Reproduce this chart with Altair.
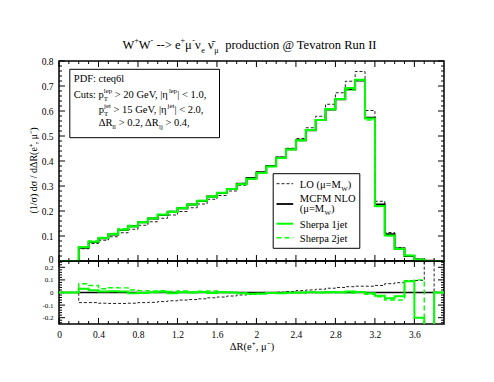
import altair as alt
import pandas as pd

# ---------------- data ----------------
bin_lo = [0.0, 0.1, 0.2, 0.3, 0.4, 0.5, 0.6, 0.7, 0.8, 0.9, 1.0, 1.1, 1.2, 1.3,
          1.4, 1.5, 1.6, 1.7, 1.8, 1.9, 2.0, 2.1, 2.2, 2.3, 2.4, 2.5, 2.6, 2.7,
          2.8, 2.9, 3.0, 3.1, 3.2, 3.3, 3.4, 3.5, 3.6, 3.7, 3.8]
X_MAX = 3.9

nlo = [0, 0, 0.053, 0.076, 0.091, 0.106, 0.124, 0.139, 0.155, 0.170, 0.184, 0.197,
       0.211, 0.226, 0.240, 0.258, 0.272, 0.288, 0.309, 0.332, 0.355, 0.380, 0.414,
       0.447, 0.483, 0.523, 0.564, 0.606, 0.647, 0.687, 0.722, 0.573, 0.226, 0.107,
       0.050, 0.020, 0.006, 0.001, 0]
lo = [0, 0, 0.049, 0.070, 0.083, 0.097, 0.113, 0.127, 0.143, 0.157, 0.171, 0.184,
      0.198, 0.213, 0.228, 0.247, 0.262, 0.280, 0.303, 0.327, 0.351, 0.378, 0.415,
      0.451, 0.490, 0.533, 0.579, 0.627, 0.673, 0.719, 0.758, 0.602, 0.239, 0.114,
      0.054, 0.022, 0.007, 0.002, 0]
sherpa1 = [0, 0, 0.055, 0.077, 0.092, 0.107, 0.125, 0.138, 0.155, 0.170, 0.185, 0.196,
           0.211, 0.226, 0.241, 0.257, 0.273, 0.288, 0.307, 0.329, 0.352, 0.378, 0.412,
           0.446, 0.483, 0.524, 0.564, 0.608, 0.648, 0.692, 0.725, 0.570, 0.220, 0.102,
           0.049, 0.022, 0.005, 0.0, 0]
sherpa2 = [0, 0, 0.057, 0.080, 0.094, 0.110, 0.129, 0.142, 0.157, 0.172, 0.187, 0.199,
           0.214, 0.227, 0.242, 0.261, 0.273, 0.289, 0.308, 0.328, 0.351, 0.378, 0.412,
           0.447, 0.481, 0.524, 0.564, 0.605, 0.647, 0.684, 0.723, 0.564, 0.218, 0.101,
           0.047, 0.022, 0.007, 0.0, 0]

r_nlo = [0] * 39
r_lo = [0, 0, -0.08, -0.08, -0.085, -0.087, -0.087, -0.085, -0.08, -0.078, -0.072,
        -0.066, -0.06, -0.056, -0.05, -0.042, -0.036, -0.028, -0.02, -0.015, -0.01,
        -0.004, 0.002, 0.008, 0.015, 0.02, 0.026, 0.034, 0.04, 0.046, 0.05, 0.05,
        0.056, 0.07, 0.078, 0.095, 0.095, 1.0, 0]
r_s1 = [0, 0, 0.03, 0.018, 0.008, 0.01, 0.008, -0.005, -0.003, 0.002, 0.005, -0.005,
        0.002, 0.0, 0.003, -0.004, 0.002, 0.0, -0.006, -0.01, -0.008, -0.004, -0.006,
        -0.002, 0.0, 0.002, 0.0, 0.004, 0.002, 0.008, 0.004, -0.005, -0.025, -0.045,
        -0.03, 0.09, -0.2, -1.0, 0]
r_s2 = [0, 0, 0.07, 0.055, 0.03, 0.038, 0.037, 0.02, 0.015, 0.012, 0.015, 0.008,
        0.012, 0.006, 0.01, 0.012, 0.004, 0.002, -0.004, -0.012, -0.01, -0.006, -0.004,
        0.0, -0.004, 0.002, 0.0, -0.002, 0.0, -0.004, 0.002, -0.015, -0.035, -0.06,
        -0.06, 0.09, 0.1, -1.0, 0]

x_major = [0, 0.4, 0.8, 1.2, 1.6, 2.0, 2.4, 2.8, 3.2, 3.6]
y_major = [0, 0.1, 0.2, 0.3, 0.4, 0.5, 0.6, 0.7, 0.8]
r_major = [-0.2, -0.1, 0, 0.1, 0.2]
x_minor = [round(0.1 * i, 2) for i in range(1, 39) if i % 4]
y_minor = [round(0.02 * i, 3) for i in range(1, 40) if i % 5]
r_minor = [round(-0.24 + 0.02 * i, 3) for i in range(25) if (i + 3) % 5]

# ---------------- styling ----------------
FONT = "Liberation Serif"
GREEN = "#00ff00"
DARK = "#222222"
W_PLOT, H_TOP, H_BOT = 385, 200, 63
MAJ, MIN = 6, 3

xs = alt.Scale(domain=[0, X_MAX], nice=False, zero=False)
ys_top = alt.Scale(domain=[0, 0.8], nice=False)
ys_bot = alt.Scale(domain=[-0.25, 0.25], nice=False)

ax_y_top = alt.Axis(values=y_major, format="~g", ticks=False, tickSize=0, domain=False,
                    grid=False, labelFont=FONT, labelFontSize=9.5, labelPadding=6,
                    labelFlush=False, labelOverlap=False,
                    labelOffset=alt.condition("datum.value == 0", alt.value(-2), alt.value(0)),
                    title="(1/σ)  dσ / dΔR(e⁺, μ⁻)", titleFont=FONT, titleFontSize=10,
                    titleFontWeight="normal", titleX=-21, titleY=109)
ax_y_bot = alt.Axis(values=r_major, format="~g", ticks=False, tickSize=0, domain=False,
                    grid=False, labelFont=FONT, labelFontSize=7, labelPadding=6,
                    labelFlush=False, labelOverlap=False,
                    labelExpr="replace(datum.label, '\u2212', '-')", title=None)
ax_x_bot = alt.Axis(values=x_major, format="~g", ticks=False, tickSize=0, domain=False,
                    grid=False, labelFont=FONT, labelFontSize=9.5, labelPadding=5,
                    labelFlush=False, labelOverlap=False,
                    title="ΔR(e⁺, μ⁻)", titleFont=FONT, titleFontSize=10.5,
                    titleFontWeight="normal", titlePadding=3)

one = pd.DataFrame({"a": [0]})

# Times / Liberation Serif advance widths (em)
TW = {' ': .25, '!': .333, '(': .333, ')': .333, '+': .564, ',': .25,
      '-': .333, '.': .25, '/': .278, ':': .278, '<': .564, '=': .564, '>': .564,
      '@': .921, '|': .2, 'A': .722, 'C': .667, 'D': .722, 'F': .556, 'G': .722,
      'I': .333, 'L': .611, 'M': .889, 'N': .722, 'O': .722, 'P': .556, 'R': .667,
      'S': .556, 'T': .611, 'V': .722, 'W': .944, 'a': .444, 'b': .5, 'c': .444,
      'd': .5, 'e': .444, 'f': .333, 'g': .5, 'h': .5, 'i': .278, 'j': .278, 'k': .5,
      'l': .278, 'm': .778, 'n': .5, 'o': .5, 'p': .5, 'q': .5, 'r': .333, 's': .389,
      't': .278, 'u': .5, 'v': .5, 'w': .722, 'x': .5, 'y': .5, 'z': .444, 'μ': .576,
      'ν': .5, 'η': .5, 'Δ': .612, 'σ': .55, '\u0304': 0}


def _pieces(segs, size):
    out = []
    for text, kind in segs:
        if kind == "n":
            s, dy, adv = size, 0, True
        elif kind == "sup":
            s, dy, adv = size * 0.65, -size * 0.45, True
        elif kind == "sub":
            s, dy, adv = size * 0.65, size * 0.3, True
        else:  # subscript without advance (stacked under a superscript)
            s, dy, adv = size * 0.65, size * 0.3, False
        w = sum(TW.get(c, 0.5) for c in text) * s
        lead = (len(text) - len(text.lstrip(" "))) * TW[" "] * s
        out.append((text.strip(" "), s, dy, lead, w if adv else 0))
    return out


def rich(segs, x0, y0, size, center=False):
    """Text annotation made of normal / superscript / subscript pieces."""
    pcs = _pieces(segs, size)
    x = x0 - sum(p[4] for p in pcs) / 2 if center else x0
    out = []
    for text, s, dy, lead, adv in pcs:
        out.append(alt.Chart(one).mark_text(align="left", baseline="alphabetic",
                                            font=FONT, fontSize=s, color="black")
                   .encode(x=alt.value(x + lead), y=alt.value(y0 + dy),
                           text=alt.value(text)))
        x += adv
    return out


def steps(xv, vals):
    return pd.DataFrame({"x": xv + [X_MAX], "y": vals + [vals[-1]]})


def series(vals, ysc, yax, xax, color, width, dash=None):
    kw = dict(interpolate="step-after", color=color, strokeWidth=width, clip=True)
    if dash:
        kw["strokeDash"] = dash
    return alt.Chart(steps(bin_lo, vals)).mark_line(**kw).encode(
        x=alt.X("x:Q", scale=xs, axis=xax),
        y=alt.Y("y:Q", scale=ysc, axis=yax))


def ticks(xax, ysc, yax, height, yvals_major, yvals_minor):
    layers = []
    for vals, L in ((x_major, MAJ), (x_minor, MIN)):
        df = pd.DataFrame({"v": vals})
        layers.append(alt.Chart(df).mark_rule(color="black", strokeWidth=1).encode(
            x=alt.X("v:Q", scale=xs, axis=xax), y=alt.value(0), y2=alt.value(L)))
        layers.append(alt.Chart(df).mark_rule(color="black", strokeWidth=1).encode(
            x=alt.X("v:Q", scale=xs, axis=xax), y=alt.value(height), y2=alt.value(height - L)))
    for vals, L in ((yvals_major, MAJ), (yvals_minor, MIN)):
        df = pd.DataFrame({"v": vals})
        layers.append(alt.Chart(df).mark_rule(color="black", strokeWidth=1).encode(
            y=alt.Y("v:Q", scale=ysc, axis=yax), x=alt.value(0), x2=alt.value(L)))
        layers.append(alt.Chart(df).mark_rule(color="black", strokeWidth=1).encode(
            y=alt.Y("v:Q", scale=ysc, axis=yax), x=alt.value(W_PLOT), x2=alt.value(W_PLOT - L)))
    return layers


# ---------------- upper panel ----------------
frame = alt.Chart(one).mark_rect(opacity=0).encode(
    x=alt.value(-49.5), x2=alt.value(0), y=alt.value(-52), y2=alt.value(0))

cut_box = alt.Chart(one).mark_rect(fill="white", stroke="black", strokeWidth=1).encode(
    x=alt.value(10.8), x2=alt.value(160.5), y=alt.value(8.3), y2=alt.value(76.7))
leg_box = alt.Chart(one).mark_rect(fill="white", stroke="black", strokeWidth=1).encode(
    x=alt.value(214.2), x2=alt.value(300.8), y=alt.value(112.7), y2=alt.value(187.3))


def sample(y, color, width, dash=None):
    kw = dict(color=color, strokeWidth=width)
    if dash:
        kw["strokeDash"] = dash
    return alt.Chart(one).mark_rule(**kw).encode(
        x=alt.value(217.5), x2=alt.value(234.2), y=alt.value(y))


texts = []
texts += rich([("W", "n"), ("+", "sup"), ("W", "n"), ("-", "sup"), (" --> e", "n"),
               ("+", "sup"), ("μ", "n"), ("-", "sup"), ("ν", "n"), ("e", "sub"),
               (" ν\u0304", "n"), ("μ", "sub"), ("  production @ Tevatron Run II", "n")],
              191, -12, 12.5, center=True)
texts += rich([("PDF: cteq6l", "n")], 14.8, 20.5, 10.5)
texts += rich([("Cuts: p", "n"), ("T", "subn"), ("lep", "sup"), (" > 20 GeV, |η", "n"),
               ("lep", "sup"), ("| < 1.0,", "n")], 14.8, 37, 10.5)
texts += rich([("p", "n"), ("T", "subn"), ("jet", "sup"), (" > 15 GeV, |η", "n"),
               ("jet", "sup"), ("| < 2.0,", "n")], 39.8, 52, 10.5)
texts += rich([("ΔR", "n"), ("ll", "sub"), (" > 0.2, ΔR", "n"), ("lj", "sub"),
               (" > 0.4,", "n")], 39.8, 65, 10.5)
texts += rich([("LO (μ=M", "n"), ("W", "sub"), (")", "n")], 240.8, 126.5, 10.5)
texts += rich([("MCFM NLO", "n")], 240.8, 140.5, 10.5)
texts += rich([("(μ=M", "n"), ("W", "sub"), (")", "n")], 240.8, 151, 10.5)
texts += rich([("Sherpa 1jet", "n")], 240.8, 166.5, 10.5)
texts += rich([("Sherpa 2jet", "n")], 240.8, 180.5, 10.5)

samples = [sample(122.7, DARK, 1, [3, 2]), sample(143, "black", 1.8),
           sample(162.7, GREEN, 2), sample(176.7, GREEN, 1.4, [5, 3])]

top_layers = ([frame, cut_box, leg_box]
              + ticks(None, ys_top, ax_y_top, H_TOP, y_major, y_minor)
              + [series(lo, ys_top, ax_y_top, None, DARK, 1, [3, 2]),
                 series(nlo, ys_top, ax_y_top, None, "black", 1.8),
                 series(sherpa1, ys_top, ax_y_top, None, GREEN, 2),
                 series(sherpa2, ys_top, ax_y_top, None, GREEN, 1.4, [5, 3])]
              + texts + samples)
top = alt.layer(*top_layers).properties(width=W_PLOT, height=H_TOP)

# ---------------- ratio panel ----------------
bot_layers = (ticks(ax_x_bot, ys_bot, ax_y_bot, H_BOT, r_major, r_minor)
              + [series(r_lo, ys_bot, ax_y_bot, ax_x_bot, DARK, 1, [3, 2]),
                 series(r_nlo, ys_bot, ax_y_bot, ax_x_bot, "black", 1.6),
                 series(r_s1, ys_bot, ax_y_bot, ax_x_bot, GREEN, 2),
                 series(r_s2, ys_bot, ax_y_bot, ax_x_bot, GREEN, 1.4, [5, 3])])
bot = alt.layer(*bot_layers).properties(width=W_PLOT, height=H_BOT)

chart = (alt.vconcat(top, bot, spacing=0, bounds="flush")
         .properties(padding=0)
         .configure(font=FONT)
         .configure_view(stroke="black", strokeWidth=1.5))

chart.save("out.html", embed_options={"renderer": "svg", "actions": False})
